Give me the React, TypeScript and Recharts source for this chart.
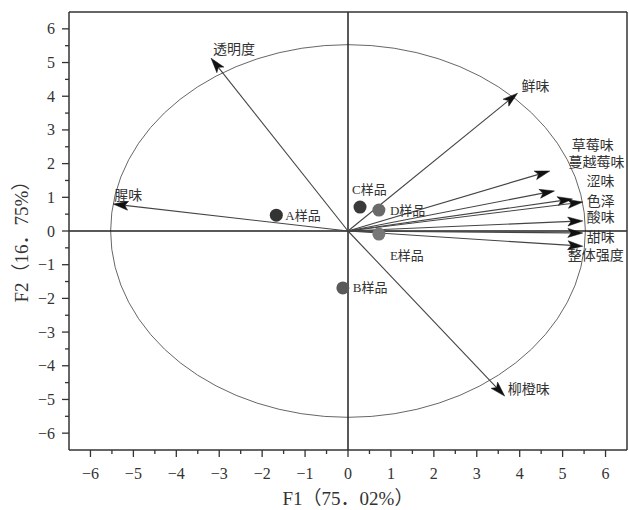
import React from 'react';
import { ScatterChart, Scatter, XAxis, YAxis, ReferenceLine, ReferenceArea } from 'recharts';

// ---- data ----
const sampleNames = ['A样品', 'B样品', 'C样品', 'D样品', 'E样品'];
const sampleF1 = [-1.67, -0.12, 0.28, 0.72, 0.72];
const sampleF2 = [0.47, -1.69, 0.71, 0.62, -0.09];

const attrNames = ['透明度', '腥味', '鲜味', '草莓味', '蔓越莓味', '涩味', '色泽', '酸味', '甜味', '整体强度', '柳橙味'];
const attrF1 = [-3.19, -5.47, 3.95, 4.7, 4.81, 5.23, 5.47, 5.47, 5.47, 5.47, 3.65];
const attrF2 = [5.13, 0.8, 4.09, 1.78, 1.19, 0.95, 0.86, 0.3, -0.06, -0.45, -4.9];

const circleRadius = 5.53;

const xTicks = [-6, -5.5, -5, -4.5, -4, -3.5, -3, -2.5, -2, -1.5, -1, -0.5, 0, 0.5, 1, 1.5, 2, 2.5, 3, 3.5, 4, 4.5, 5, 5.5, 6];
const yTicks = [-6, -5.5, -5, -4.5, -4, -3.5, -3, -2.5, -2, -1.5, -1, -0.5, 0, 0.5, 1, 1.5, 2, 2.5, 3, 3.5, 4, 4.5, 5, 5.5, 6];
const topTicks = [-3, -2, -1, 1, 2, 3];
const rightTicks = [-2, -1, 1, 2];

const xTitle = 'F1（75．02%）';
const yTitle = 'F2（16．75%）';

// ---- styles ----
const sampleColors = ['#333333', '#5a5a5a', '#3a3a3a', '#6a6a6a', '#777777'];
const sampleLabelOffsets = [
  [9, 0], [10, 0], [-8, -18], [11, 0], [11, 21],
];
const attrLabelOffsets = [
  [2, -9], [1, -9], [4, -7], [22, -26], [14, -28], [14, -17], [4, -1], [4, -3], [4, 4], [-15, 9], [3, -7],
];

const SERIF = "'Liberation Serif', 'DejaVu Serif', 'Noto Sans CJK SC', serif";
const LABEL_FONT = "'Liberation Serif', 'Noto Sans CJK SC', serif";
const AXIS_COLOR = '#333';

const samples = sampleNames.map((name, i) => ({
  name, x: sampleF1[i], y: sampleF2[i], color: sampleColors[i],
  dx: sampleLabelOffsets[i][0], dy: sampleLabelOffsets[i][1],
}));

const fmt = (v: number) => (v < 0 ? '\u2212' + Math.abs(v) : String(v));

const BottomTick = (props: any) => {
  const { x, y, payload } = props;
  const v = payload.value;
  const major = Number.isInteger(v);
  return (
    <g>
      <line x1={x} y1={y} x2={x} y2={y + (major ? 7 : 4)} stroke={AXIS_COLOR} strokeWidth={1.3} />
      {major && (
        <text x={x} y={y + 23} textAnchor="middle" dominantBaseline="central" fontFamily={SERIF} fontSize={16} fill="#333">
          {fmt(v)}
        </text>
      )}
    </g>
  );
};

const LeftTick = (props: any) => {
  const { x, y, payload } = props;
  const v = payload.value;
  const major = Number.isInteger(v);
  return (
    <g>
      <line x1={x} y1={y} x2={x - (major ? 7 : 4)} y2={y} stroke={AXIS_COLOR} strokeWidth={1.3} />
      {major && (
        <text x={x - 14} y={y} textAnchor="end" dominantBaseline="central" fontFamily={SERIF} fontSize={16} fill="#333">
          {fmt(v)}
        </text>
      )}
    </g>
  );
};

const TopTick = (props: any) => {
  const { x, y, payload } = props;
  const major = payload.value % 2 === 0;
  return <line x1={x} y1={y} x2={x} y2={y + (major ? 7 : 4)} stroke={AXIS_COLOR} strokeWidth={1.3} />;
};

const RightTick = (props: any) => {
  const { x, y } = props;
  return <line x1={x} y1={y} x2={x - 6} y2={y} stroke={AXIS_COLOR} strokeWidth={1.3} />;
};

const makeArrow = (label: string, dx: number, dy: number) => (props: any) => {
  const { x1, y1, x2, y2 } = props;
  const ang = Math.atan2(y2 - y1, x2 - x1);
  const len = 15;
  const hw = 4.5;
  const c = Math.cos(ang);
  const s = Math.sin(ang);
  const bx = x2 - len * c;
  const by = y2 - len * s;
  const nx = x2 - len * 0.78 * c;
  const ny = y2 - len * 0.78 * s;
  const p1 = `${x2},${y2}`;
  const p2 = `${bx - hw * s},${by + hw * c}`;
  const p3 = `${nx},${ny}`;
  const p4 = `${bx + hw * s},${by - hw * c}`;
  return (
    <g>
      <line x1={x1} y1={y1} x2={nx} y2={ny} stroke="#444" strokeWidth={1.1} />
      <polygon points={`${p1} ${p2} ${p3} ${p4}`} fill="#111" stroke="#111" strokeWidth={0.5} />
      <text x={x2 + dx} y={y2 + dy} dominantBaseline="central" fontFamily={LABEL_FONT} fontSize={14} fill="#333">
        {label}
      </text>
    </g>
  );
};

const EllipseShape = (props: any) => {
  const { x, y, width, height } = props;
  const w = Math.abs(width);
  const h = Math.abs(height);
  return (
    <ellipse cx={x + width / 2} cy={y + height / 2} rx={w / 2} ry={h / 2} fill="none" stroke="#666" strokeWidth={1} />
  );
};

const SampleShape = (props: any) => {
  const { cx, cy, payload } = props;
  return (
    <g>
      <circle cx={cx} cy={cy} r={6.5} fill={payload.color} />
      <text x={cx + payload.dx} y={cy + payload.dy} dominantBaseline="central" fontFamily={LABEL_FONT} fontSize={13} fill="#333">
        {payload.name}
      </text>
    </g>
  );
};

export default function App() {
  return (
    <div style={{ position: 'absolute', left: 0, top: 0, background: '#fff' }}>
      <ScatterChart width={629} height={510} margin={{ top: 11, right: 1, bottom: 0, left: 0 }}>
        <XAxis
          type="number"
          dataKey="x"
          domain={[-6.5, 6.5]}
          ticks={xTicks}
          interval={0}
          tickSize={0}
          tickMargin={0}
          tickLine={false}
          tick={(p: any) => <BottomTick {...p} />}
          height={60}
          axisLine={{ stroke: AXIS_COLOR, strokeWidth: 1.5 }}
          label={{
            content: (lp: any) => {
              const vb = lp.viewBox || { x: 69, y: 450, width: 558, height: 60 };
              return (
                <text x={vb.x + vb.width / 2} y={vb.y + 48} textAnchor="middle" dominantBaseline="central" fontFamily={SERIF} fontSize={19} fill="#333">
                  {xTitle}
                </text>
              );
            },
          }}
        />
        <XAxis
          xAxisId="top"
          orientation="top"
          type="number"
          domain={[-4, 4]}
          ticks={topTicks}
          interval={0}
          tickSize={0}
          tickMargin={0}
          tickLine={false}
          tick={(p: any) => <TopTick {...p} />}
          height={1}
          axisLine={{ stroke: AXIS_COLOR, strokeWidth: 1.5 }}
        />
        <YAxis
          type="number"
          dataKey="y"
          domain={[-6.5, 6.5]}
          ticks={yTicks}
          interval={0}
          tickSize={0}
          tickMargin={0}
          tickLine={false}
          tick={(p: any) => <LeftTick {...p} />}
          width={69}
          axisLine={{ stroke: AXIS_COLOR, strokeWidth: 1.5 }}
          label={{
            content: (lp: any) => {
              const vb = lp.viewBox || { x: 0, y: 11, width: 69, height: 439 };
              const cx = 21;
              const cy = vb.y + vb.height / 2 + 6;
              return (
                <text x={cx} y={cy} textAnchor="middle" dominantBaseline="central" transform={`rotate(-90 ${cx} ${cy})`} fontFamily={SERIF} fontSize={19} fill="#333">
                  {yTitle}
                </text>
              );
            },
          }}
        />
        <YAxis
          yAxisId="right"
          orientation="right"
          type="number"
          domain={[-3, 3]}
          ticks={rightTicks}
          interval={0}
          tickSize={0}
          tickMargin={0}
          tickLine={false}
          tick={(p: any) => <RightTick {...p} />}
          width={1}
          axisLine={{ stroke: AXIS_COLOR, strokeWidth: 1.5 }}
        />
        <ReferenceArea
          x1={-circleRadius}
          x2={circleRadius}
          y1={-circleRadius}
          y2={circleRadius}
          shape={(p: any) => <EllipseShape {...p} />}
        />
        <ReferenceLine x={0} stroke="#222" strokeWidth={1.5} />
        <ReferenceLine y={0} stroke="#222" strokeWidth={1.5} />
        {attrNames.map((name, i) => (
          <ReferenceLine
            key={name}
            segment={[{ x: 0, y: 0 }, { x: attrF1[i], y: attrF2[i] }]}
            shape={makeArrow(name, attrLabelOffsets[i][0], attrLabelOffsets[i][1])}
          />
        ))}
        <Scatter data={samples} isAnimationActive={false} shape={(p: any) => <SampleShape {...p} />} />
      </ScatterChart>
    </div>
  );
}
